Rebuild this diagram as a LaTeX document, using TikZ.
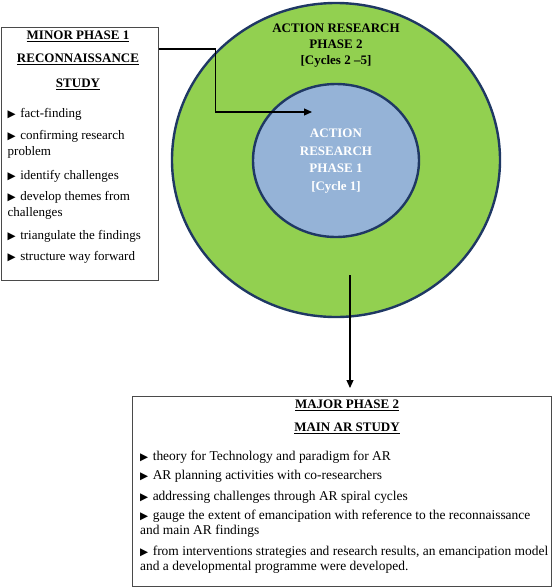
\documentclass[tikz,border=0pt]{standalone}
\usepackage{fontspec}
\setmainfont{Liberation Serif}
\newfontfamily\symfont{DejaVu Sans}
\usetikzlibrary{shapes.geometric,arrows.meta}
\definecolor{outergreen}{HTML}{92D050}
\definecolor{innerblue}{HTML}{95B3D7}
\definecolor{ringblue}{HTML}{1F3864}
\definecolor{boxgray}{HTML}{4A4A4A}
\newcommand{\tri}{{\symfont\fontsize{10.5}{10}\selectfont ▶}\hspace{4.5pt}}
\tikzset{
  frame/.style={draw=boxgray, line width=1pt, fill=white, inner sep=0pt},
  ring/.style={ellipse, draw=ringblue, line width=2.4pt, inner sep=0pt},
  txt/.style={inner sep=0pt, font=\fontsize{13}{15}\selectfont},
  head/.style={txt, anchor=base, font=\fontsize{13}{15}\selectfont\bfseries},
  item/.style={txt, anchor=base west},
  bitem/.style={inner sep=0pt, anchor=base west, font=\fontsize{13.45}{15}\selectfont},
  arr/.style={draw=black, line width=1.1pt, -{Triangle[length=8pt,width=7pt]}},
}
\begin{document}
\begin{tikzpicture}[x=1pt,y=-1pt]
\useasboundingbox (0,0) rectangle (552,587);
% circles
\node[ring, fill=outergreen, minimum width=328pt, minimum height=314pt] (outer) at (336,160) {};
\node[ring, fill=innerblue, minimum width=166pt, minimum height=153pt] (inner) at (336,160.5) {};
\node[head] (o1) at (336,32.5) {ACTION RESEARCH};
\node[head] (o2) at (336,48.5) {PHASE 2};
\node[head] (o3) at (336,64.5) {[Cycles 2 –5]};
\node[head, text=white] (i1) at (336,137.5) {ACTION};
\node[head, text=white] (i2) at (336,155) {RESEARCH};
\node[head, text=white] (i3) at (336,172.5) {PHASE 1};
\node[head, text=white] (i4) at (336,190) {[Cycle 1]};
% left box
\node[frame, anchor=north west, minimum width=157pt, minimum height=253pt] (minor) at (0.5,27) {};
\node[head] (m1) at (78,39.5) {\underline{MINOR PHASE 1}};
\node[head] (m2) at (78,62.5) {\underline{RECONNAISSANCE}};
\node[head] (m3) at (78,87.5) {\underline{STUDY}};
\node[item] (a1) at (7.5,117.5) {\tri fact-finding};
\node[item] (a2) at (7.5,139.5) {\tri confirming research};
\node[item] (a2b) at (7.5,155.5) {problem};
\node[item] (a3) at (7.5,179) {\tri identify challenges};
\node[item] (a4) at (7.5,200.5) {\tri develop themes from};
\node[item] (a4b) at (7.5,216.5) {challenges};
\node[item] (a5) at (7.5,239.5) {\tri triangulate the findings};
\node[item] (a6) at (7.5,260.5) {\tri structure way forward};
% bottom box
\node[frame, anchor=north west, minimum width=419pt, minimum height=190pt] (major) at (132,396) {};
\node[head] (b1) at (347,408.5) {\underline{MAJOR PHASE 2}};
\node[head] (b2) at (347,431.5) {\underline{MAIN AR STUDY}};
\node[bitem] (c1) at (140,460) {\tri theory for Technology and paradigm for AR};
\node[bitem] (c2) at (140,479) {\tri AR planning activities with co-researchers};
\node[bitem] (c3) at (140,500) {\tri addressing challenges through AR spiral cycles};
\node[bitem] (c4) at (140,519) {\tri gauge the extent of emancipation with reference to the reconnaissance};
\node[bitem] (c4b) at (140,534) {and main AR findings};
\node[bitem] (c5) at (140,555) {\tri from interventions strategies and research results, an emancipation model};
\node[bitem] (c5b) at (140,570) {and a developmental programme were developed.};
% connectors
\coordinate (tip) at (312,112);
\coordinate (dstart) at (350,275);
\draw[arr] ([yshift=-22pt]minor.north east) -- ++(57,0) |- (tip);
\draw[arr, shorten >=8pt] (dstart) -- (dstart |- major.north);
\end{tikzpicture}
\end{document}
